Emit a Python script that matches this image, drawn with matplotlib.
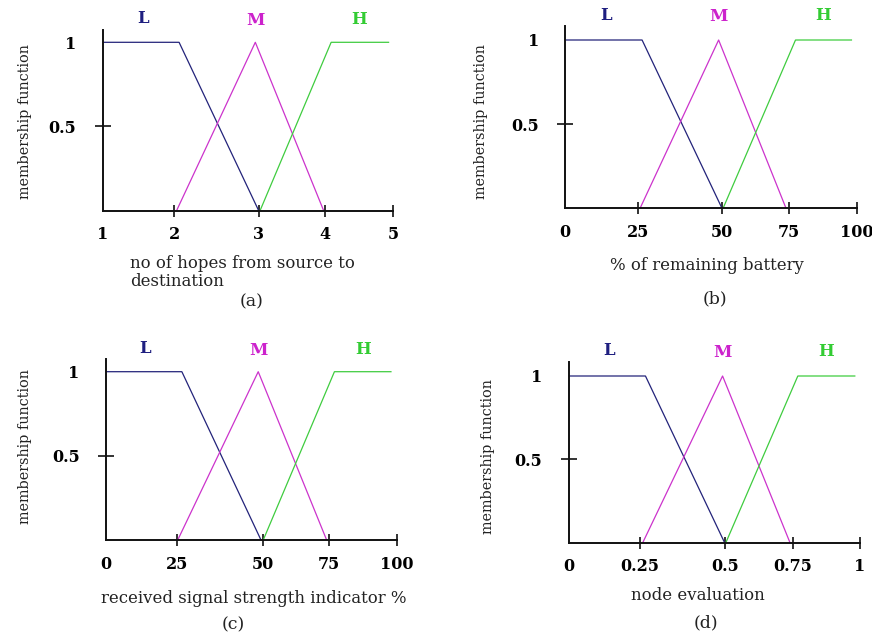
import numpy as np
import matplotlib
matplotlib.use("Agg")
import matplotlib.pyplot as plt

W, H_ = 872, 637

# ---------------- data ----------------
set_names = ["L", "M", "H"]

a_ticks = [1, 2, 3, 4, 5]
a_tick_labels = ["1", "2", "3", "4", "5"]
a_L_x = [1, 2.06, 3.0]
a_L_y = [1, 1, 0]
a_M_x = [2.03, 2.96, 3.98]
a_M_y = [0, 1, 0]
a_H_x = [3.02, 4.09, 4.94]
a_H_y = [0, 1, 1]

b_ticks = [0, 25, 50, 75, 100]
b_tick_labels = ["0", "25", "50", "75", "100"]
b_L_x = [0, 26.3, 50]
b_L_y = [1, 1, 0]
b_M_x = [25.7, 49.0, 74.0]
b_M_y = [0, 1, 0]
b_H_x = [50.4, 77.5, 98.3]
b_H_y = [0, 1, 1]

c_ticks = [0, 25, 50, 75, 100]
c_tick_labels = ["0", "25", "50", "75", "100"]
c_L_x = [0, 26.5, 49.5]
c_L_y = [1, 1, 0]
c_M_x = [25.3, 48.7, 74.0]
c_M_y = [0, 1, 0]
c_H_x = [50.2, 76.9, 98.1]
c_H_y = [0, 1, 1]

d_ticks = [0, 0.25, 0.5, 0.75, 1]
d_tick_labels = ["0", "0.25", "0.5", "0.75", "1"]
d_L_x = [0, 0.266, 0.498]
d_L_y = [1, 1, 0]
d_M_x = [0.258, 0.492, 0.740]
d_M_y = [0, 1, 0]
d_H_x = [0.502, 0.769, 0.983]
d_H_y = [0, 1, 1]

y_ticks = [0.5, 1]
y_tick_labels = ["0.5", "1"]

xlabels = ["no of hopes from source to\ndestination",
           "% of remaining battery",
           "received signal strength indicator %",
           "node evaluation"]
captions = ["(a)", "(b)", "(c)", "(d)"]
ylabel = "membership function"

# ---------------- layout / style ----------------
colors = {"L": "#23237a", "M": "#cc33cc", "H": "#3fcc3f"}
label_colors = {"L": "#1f1f80", "M": "#cc22cc", "H": "#33cc33"}
SERIF = "DejaVu Serif"

# per panel: axis pixel box and tick pixel positions (hand-drawn, non-uniform)
panels = [
    dict(ticks=a_ticks, tl=a_tick_labels, series=[(a_L_x, a_L_y), (a_M_x, a_M_y), (a_H_x, a_H_y)],
         tpx=[102.7, 174, 258.7, 325, 393.3], base=210.7, one=42.3, top=30,
         lmh=[(142.7, 18.3), (255, 20.7), (359, 19.3)],
         ylab=(25, 121.7), xlab=(130, 272.5, "left"), cap=(252, 302)),
    dict(ticks=b_ticks, tl=b_tick_labels, series=[(b_L_x, b_L_y), (b_M_x, b_M_y), (b_H_x, b_H_y)],
         tpx=[565.3, 637.7, 722, 788.7, 856.7], base=208.3, one=40, top=26,
         lmh=[(606, 15), (718.7, 16.7), (822.7, 15.7)],
         ylab=(481, 121.7), xlab=(706.7, 265.7, "center"), cap=(715.3, 299.3)),
    dict(ticks=c_ticks, tl=c_tick_labels, series=[(c_L_x, c_L_y), (c_M_x, c_M_y), (c_H_x, c_H_y)],
         tpx=[106, 176.7, 262.7, 329.3, 396.7], base=540, one=371.7, top=359.3,
         lmh=[(145, 348.3), (258.7, 350.7), (362.7, 349.3)],
         ylab=(25, 446.7), xlab=(253.3, 598.3, "center"), cap=(233.3, 625)),
    dict(ticks=d_ticks, tl=d_tick_labels, series=[(d_L_x, d_L_y), (d_M_x, d_M_y), (d_H_x, d_H_y)],
         tpx=[568.7, 640, 725.3, 792.7, 860], base=542.7, one=376, top=361.7,
         lmh=[(608.7, 350.7), (722, 352.3), (826, 351.7)],
         ylab=(487.7, 456.7), xlab=(697.7, 595, "center"), cap=(706, 623.3)),
]

fig = plt.figure(figsize=(W / 100, H_ / 100), dpi=100)
fig.patch.set_facecolor("white")


def fx(x):
    return x / W


def fy(y):
    return 1 - y / H_


for i, p in enumerate(panels):
    x0, x1 = p["tpx"][0], p["tpx"][-1]
    ax = fig.add_axes([fx(x0), fy(p["base"]), (x1 - x0) / W, (p["base"] - p["top"]) / H_])
    vals = np.array(p["ticks"], dtype=float)
    pos = np.array(p["tpx"], dtype=float)
    ax.set_xscale("function", functions=(lambda v, vals=vals, pos=pos: np.interp(v, vals, pos),
                                         lambda q, vals=vals, pos=pos: np.interp(q, pos, vals)))
    ax.set_xlim(vals[0], vals[-1])
    ymax = (p["base"] - p["top"]) / (p["base"] - p["one"])
    ax.set_ylim(0, ymax)

    for name, (xs, ys) in zip(set_names, p["series"]):
        ax.plot(xs, ys, color=colors[name], lw=0.9, clip_on=False, solid_capstyle="butt")

    for s in ["top", "right"]:
        ax.spines[s].set_visible(False)
    for s in ["left", "bottom"]:
        ax.spines[s].set_linewidth(1.4)
        ax.spines[s].set_color("#111111")
    ax.patch.set_alpha(0)

    ax.set_xticks(p["ticks"])
    ax.set_xticklabels(p["tl"], fontfamily=SERIF, fontweight="bold", fontsize=11.5)
    ax.tick_params(axis="x", direction="inout", length=8.5, width=1.2, pad=7, color="#111111")
    ax.xaxis.get_major_ticks()[0].tick1line.set_visible(False)

    ax.set_yticks(y_ticks)
    ax.set_yticklabels(y_tick_labels, fontfamily=SERIF, fontweight="bold", fontsize=11.5)
    ax.tick_params(axis="y", direction="inout", length=12, width=1.2, pad=13, color="#111111")
    ax.yaxis.get_major_ticks()[1].tick1line.set_visible(False)

    # set labels L / M / H
    for name, (lx, ly) in zip(set_names, p["lmh"]):
        fig.text(fx(lx), fy(ly), name, color=label_colors[name], fontfamily=SERIF,
                 fontweight="bold", fontsize=12, ha="center", va="center")

    # y label
    fig.text(fx(p["ylab"][0]), fy(p["ylab"][1]), ylabel, rotation=90, fontfamily=SERIF,
             fontsize=10.4, ha="center", va="center", color="#222222")
    # x label
    xl = p["xlab"]
    fig.text(fx(xl[0]), fy(xl[1]), xlabels[i], fontfamily=SERIF, fontsize=11.9,
             ha=xl[2], va="center", color="#222222", linespacing=1.1)
    # caption
    fig.text(fx(p["cap"][0]), fy(p["cap"][1]), captions[i], fontfamily=SERIF, fontsize=12.5,
             ha="center", va="center", color="#222222")

fig.savefig("out.png", dpi=100, facecolor="white")
